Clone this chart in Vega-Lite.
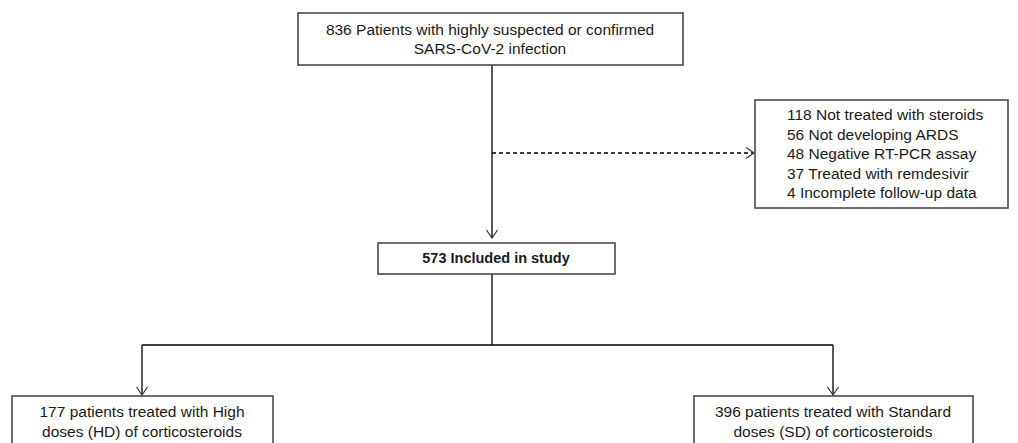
{
  "$schema": "https://vega.github.io/schema/vega-lite/v6.json",
  "width": 1018,
  "height": 443,
  "padding": 0,
  "autosize": {"type": "none"},
  "background": "white",
  "config": {"view": {"stroke": null}},
  "datasets": {
    "boxes": [
      {"x": 298, "x2": 683, "y": 13, "y2": 65},
      {"x": 755, "x2": 1008, "y": 100, "y2": 208},
      {"x": 378, "x2": 615, "y": 243, "y2": 274},
      {"x": 12, "x2": 273, "y": 396, "y2": 450},
      {"x": 694, "x2": 973, "y": 396, "y2": 450}
    ],
    "lines": [
      {"x": 492, "x2": 492, "y": 65, "y2": 238, "dash": "solid"},
      {"x": 492, "x2": 492, "y": 274, "y2": 345, "dash": "solid"},
      {"x": 142, "x2": 833, "y": 345, "y2": 345, "dash": "solid"},
      {"x": 142, "x2": 142, "y": 345, "y2": 395, "dash": "solid"},
      {"x": 833, "x2": 833, "y": 345, "y2": 395, "dash": "solid"},
      {"x": 492, "x2": 754, "y": 153, "y2": 153, "dash": "dashed"}
    ],
    "arrows": [
      {"x": 492, "y": 238, "dir": "down"},
      {"x": 142, "y": 395, "dir": "down"},
      {"x": 833, "y": 395, "dir": "down"},
      {"x": 754, "y": 153, "dir": "right"}
    ],
    "centered": [
      {"x": 490, "y": 30, "label": "836 Patients with highly suspected or confirmed"},
      {"x": 490, "y": 49, "label": "SARS-CoV-2 infection"},
      {"x": 142, "y": 412, "label": "177 patients treated with High"},
      {"x": 142, "y": 432, "label": "doses (HD) of corticosteroids"},
      {"x": 833, "y": 412, "label": "396 patients treated with Standard"},
      {"x": 833, "y": 432, "label": "doses (SD) of corticosteroids"}
    ],
    "bold": [
      {"x": 496, "y": 259, "label": "573 Included in study"}
    ],
    "left": [
      {"x": 787, "y": 115, "label": "118  Not treated with steroids"},
      {"x": 787, "y": 134.5, "label": "56  Not developing  ARDS"},
      {"x": 787, "y": 154, "label": "48  Negative RT-PCR assay"},
      {"x": 787, "y": 173.5, "label": "37  Treated with remdesivir"},
      {"x": 787, "y": 193, "label": "4  Incomplete follow-up  data"}
    ]
  },
  "layer": [
    {
      "data": {"name": "lines"},
      "mark": {"type": "rule", "color": "black", "strokeWidth": 1.3},
      "encoding": {
        "x": {"field": "x", "type": "quantitative", "scale": {"domain": [0, 1018], "nice": false, "zero": false}, "axis": null},
        "x2": {"field": "x2"},
        "y": {"field": "y", "type": "quantitative", "scale": {"domain": [0, 443], "nice": false, "zero": false, "reverse": true}, "axis": null},
        "y2": {"field": "y2"},
        "strokeDash": {"field": "dash", "type": "nominal", "scale": {"domain": ["solid", "dashed"], "range": [[1, 0], [4, 3]]}, "legend": null}
      }
    },
    {
      "data": {"name": "boxes"},
      "mark": {"type": "rect", "fill": "white", "stroke": "#404040", "strokeWidth": 1.5},
      "encoding": {
        "x": {"field": "x", "type": "quantitative", "scale": {"domain": [0, 1018], "nice": false, "zero": false}, "axis": null},
        "x2": {"field": "x2"},
        "y": {"field": "y", "type": "quantitative", "scale": {"domain": [0, 443], "nice": false, "zero": false, "reverse": true}, "axis": null},
        "y2": {"field": "y2"}
      }
    },
    {
      "data": {"name": "arrows"},
      "mark": {"type": "point", "filled": false, "stroke": "#333333", "strokeWidth": 1.2, "size": 121, "opacity": 1},
      "encoding": {
        "x": {"field": "x", "type": "quantitative", "scale": {"domain": [0, 1018], "nice": false, "zero": false}, "axis": null},
        "y": {"field": "y", "type": "quantitative", "scale": {"domain": [0, 443], "nice": false, "zero": false, "reverse": true}, "axis": null},
        "shape": {"field": "dir", "type": "nominal", "scale": {"domain": ["down", "right"], "range": ["M-1,-1.45L0,0L1,-1.45", "M-1.45,-1L0,0L-1.45,1"]}, "legend": null}
      }
    },
    {
      "data": {"name": "centered"},
      "mark": {"type": "text", "align": "center", "baseline": "middle", "font": "Liberation Sans", "fontSize": 15.5, "color": "#1a1a1a"},
      "encoding": {
        "x": {"field": "x", "type": "quantitative", "scale": {"domain": [0, 1018], "nice": false, "zero": false}, "axis": null},
        "y": {"field": "y", "type": "quantitative", "scale": {"domain": [0, 443], "nice": false, "zero": false, "reverse": true}, "axis": null},
        "text": {"field": "label"}
      }
    },
    {
      "data": {"name": "bold"},
      "mark": {"type": "text", "align": "center", "baseline": "middle", "font": "Liberation Sans", "fontSize": 14.5, "fontWeight": "bold", "color": "#1a1a1a"},
      "encoding": {
        "x": {"field": "x", "type": "quantitative", "scale": {"domain": [0, 1018], "nice": false, "zero": false}, "axis": null},
        "y": {"field": "y", "type": "quantitative", "scale": {"domain": [0, 443], "nice": false, "zero": false, "reverse": true}, "axis": null},
        "text": {"field": "label"}
      }
    },
    {
      "data": {"name": "left"},
      "mark": {"type": "text", "align": "left", "baseline": "middle", "font": "Liberation Sans", "fontSize": 15.5, "color": "#1a1a1a"},
      "encoding": {
        "x": {"field": "x", "type": "quantitative", "scale": {"domain": [0, 1018], "nice": false, "zero": false}, "axis": null},
        "y": {"field": "y", "type": "quantitative", "scale": {"domain": [0, 443], "nice": false, "zero": false, "reverse": true}, "axis": null},
        "text": {"field": "label"}
      }
    }
  ]
}
